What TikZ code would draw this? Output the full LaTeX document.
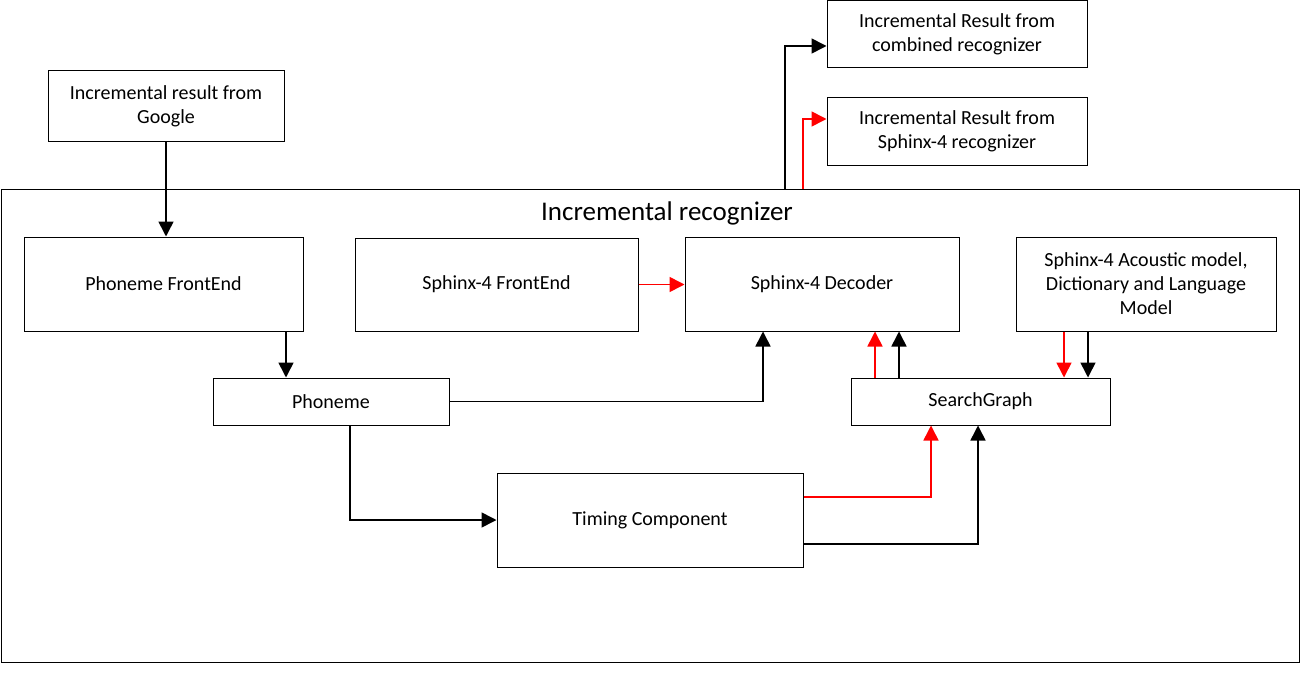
\documentclass[tikz,border=0pt]{standalone}
\usepackage{fontspec}
\setmainfont{Carlito}
\usetikzlibrary{arrows.meta}
\begin{document}
\begin{tikzpicture}[x=1pt,y=-1pt,
  box/.style={draw,line width=1pt,inner sep=0pt,align=center,font=\fontsize{20}{24}\selectfont},
  conn/.style={line width=1.6pt,-{Triangle[length=15pt,width=15pt]}},
  redconn/.style={conn,red}]
\useasboundingbox (0,0) rectangle (1301,674);
% container
\draw[line width=1pt] (1,189) rectangle (1299,662);
\node[font=\fontsize{27}{30}\selectfont] (title) at (667,213) {Incremental recognizer};
% boxes
\node[box,minimum width=236pt,minimum height=71pt] (google) at (166,106.5) {Incremental result from\\Google};
\node[box,minimum width=260pt,minimum height=67pt] (comb) at (957,34.5) {Incremental Result from\\combined recognizer};
\node[box,minimum width=260pt,minimum height=67pt] (sres) at (957,131.5) {Incremental Result from\\Sphinx-4 recognizer};
\node[box,minimum width=279pt,minimum height=94pt] (pfe) at (163.5,284) {Phoneme FrontEnd};
\node[box,minimum width=283pt,minimum height=93pt] (sfe) at (496.5,284.5) {Sphinx-4 FrontEnd};
\node[box,minimum width=274pt,minimum height=94pt] (dec) at (822,284) {Sphinx-4 Decoder};
\node[box,minimum width=260pt,minimum height=94pt] (am) at (1146,284) {Sphinx-4 Acoustic model,\\Dictionary and Language\\Model};
\node[box,minimum width=236pt,minimum height=47pt] (ph) at (331,401.5) {Phoneme};
\node[box,minimum width=259pt,minimum height=47pt] (sg) at (980.5,401.5) {SearchGraph};
\node[box,minimum width=306pt,minimum height=94pt] (tc) at (650,520) {Timing Component};
% coordinates on container top
\coordinate (cb) at (785,189);
\coordinate (cr) at (803,189);
% connectors
\draw[conn] (google.south) -- (pfe.north -| google.south);
\draw[conn] (pfe.south -| 286,0) -- (ph.north -| 286,0);
\draw[conn] (ph.east) -| (dec.south -| 763,0);
\draw[conn] (ph.south -| 350,0) |- (tc.west);
\draw[redconn] (sfe.east) -- (dec.west |- sfe.east);
\draw[redconn] (sg.north -| 875,0) -- (dec.south -| 875,0);
\draw[conn] (sg.north -| 899,0) -- (dec.south -| 899,0);
\draw[redconn] (am.south -| 1064,0) -- (sg.north -| 1064,0);
\draw[conn] (am.south -| 1088,0) -- (sg.north -| 1088,0);
\draw[redconn] (tc.east |- 0,497) -| (sg.south -| 931,0);
\draw[conn] (tc.east |- 0,544) -| (sg.south -| 978,0);
\draw[conn] (cb) |- (comb.west |- 0,46);
\draw[redconn] (cr) |- (sres.west |- 0,119);
\end{tikzpicture}
\end{document}
